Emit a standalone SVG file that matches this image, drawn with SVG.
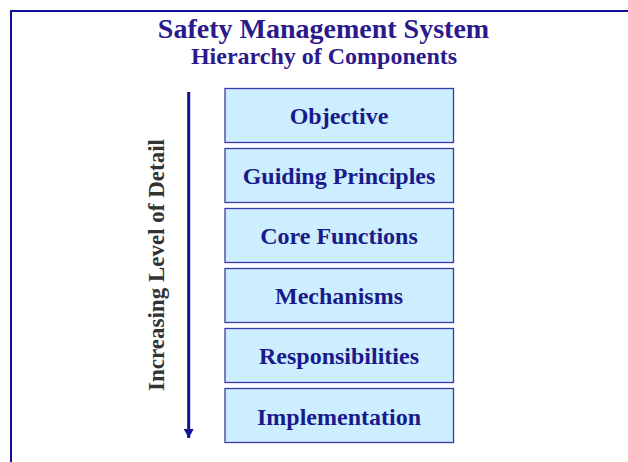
<svg xmlns="http://www.w3.org/2000/svg" width="628" height="462" viewBox="0 0 628 462">
<style>
.frame{fill:none;stroke:#10109a;stroke-width:2}
.box{fill:#cdeeff;stroke:#3a3aa8;stroke-width:1.3}
.lbl{font-family:"Liberation Serif",serif;font-weight:bold;font-size:24px;fill:#1a1a8c;text-anchor:middle}
.title{font-family:"Liberation Serif",serif;font-weight:bold;fill:#2a1a8c;text-anchor:middle}
.side{font-family:"Liberation Serif",serif;font-weight:bold;font-size:23px;fill:#333;text-anchor:middle}
</style>
<defs>
<marker id="ah" viewBox="0 0 10 10" refX="10" refY="5" markerWidth="9" markerHeight="10" markerUnits="userSpaceOnUse" orient="auto" preserveAspectRatio="none">
<path d="M0,0 L10,5 L0,10 z" fill="#10109a"/>
</marker>
</defs>
<path class="frame" d="M11,462 V11 H628"/>
<g id="title">
<text class="title" x="323.5" y="38" font-size="28">Safety Management System</text>
<text class="title" x="324" y="64" font-size="24">Hierarchy of Components</text>
</g>
<g id="connectors">
<line x1="188.7" y1="92" x2="188.7" y2="438" stroke="#10109a" stroke-width="3" marker-end="url(#ah)"/>
</g>
<g id="side-label">
<text class="side" transform="translate(164,265) rotate(-90)">Increasing Level of Detail</text>
</g>
<g id="objective"><rect class="box" x="225" y="88.5" width="228.5" height="54"/><text class="lbl" x="339" y="123.5">Objective</text></g>
<g id="guiding-principles"><rect class="box" x="225" y="148.5" width="228.5" height="54"/><text class="lbl" x="339" y="184">Guiding Principles</text></g>
<g id="core-functions"><rect class="box" x="225" y="208.5" width="228.5" height="54"/><text class="lbl" x="339" y="244">Core Functions</text></g>
<g id="mechanisms"><rect class="box" x="225" y="268.5" width="228.5" height="54"/><text class="lbl" x="339" y="304">Mechanisms</text></g>
<g id="responsibilities"><rect class="box" x="225" y="328.5" width="228.5" height="54"/><text class="lbl" x="339" y="364">Responsibilities</text></g>
<g id="implementation"><rect class="box" x="225" y="388.5" width="228.5" height="54"/><text class="lbl" x="339" y="424.5">Implementation</text></g>
</svg>
